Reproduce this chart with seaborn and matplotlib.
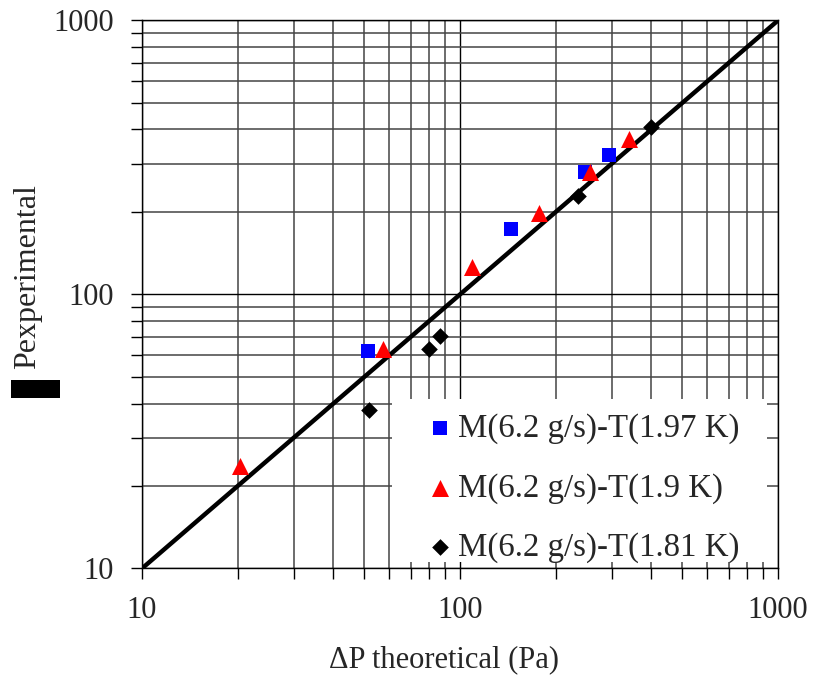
import matplotlib
matplotlib.use('Agg')
import matplotlib.pyplot as plt
import seaborn as sns
from matplotlib.ticker import FixedLocator, FixedFormatter, LogLocator, NullFormatter
from matplotlib.patches import Rectangle

# data (Pa, log-log)
blue_x = [51.5, 145, 247, 295]
blue_y = [62, 174, 281, 324]
red_x = [20.4, 57.4, 109, 177, 257, 341]
red_y = [23.6, 63.5, 125.5, 198, 279, 368]
black_x = [51.8, 80, 86.5, 234.5, 400]
black_y = [38, 63.5, 70.3, 228, 407]

labels = ['M(6.2 g/s)-T(1.97 K)', 'M(6.2 g/s)-T(1.9 K)', 'M(6.2 g/s)-T(1.81 K)']

# y = x reference line
line_x = [10, 1000]
line_y = [10, 1000]

tick_values = [10, 100, 1000]
tick_labels = ['10', '100', '1000']

sns.set_style('white')
plt.rcParams['font.family'] = ['Liberation Serif', 'DejaVu Serif']
plt.rcParams['font.size'] = 22

fig = plt.figure(figsize=(8.16, 6.77), dpi=100)
ax = fig.add_axes([0.174, 0.1603, 0.7794, 0.8095])

sns.lineplot(x=line_x, y=line_y, color='black', linewidth=3.2, ax=ax, zorder=3)

series = [
    (blue_x, blue_y, 's', '#0000ff', 115, labels[0]),
    (red_x, red_y, '^', '#ff0000', 150, labels[1]),
    (black_x, black_y, 'D', 'black', 72, labels[2]),
]
for xs, ys, mk, col, size, lab in series:
    sns.scatterplot(x=xs, y=ys, marker=mk, color=col, s=size, linewidth=0,
                    label=lab, ax=ax, zorder=4)

ax.set_xscale('log')
ax.set_yscale('log')
ax.set_xlim(10, 1000)
ax.set_ylim(10, 1000)

for axis in (ax.xaxis, ax.yaxis):
    axis.set_major_locator(FixedLocator(tick_values))
    axis.set_major_formatter(FixedFormatter(tick_labels))
    axis.set_minor_locator(LogLocator(base=10, subs=range(2, 10)))
    axis.set_minor_formatter(NullFormatter())

ax.grid(which='major', color='black', linewidth=1.0)
ax.grid(which='minor', color='#444444', linewidth=1.1)
ax.set_axisbelow(True)
ax.tick_params(which='both', direction='out', length=8, width=1.0,
               color='black', left=True, bottom=True)
ax.tick_params(which='major', labelsize=22, pad=12)
for sp in ax.spines.values():
    sp.set_color('black')
    sp.set_linewidth(1.0)

ax.set_xlabel('\u0394P theoretical (Pa)', fontsize=22)
ax.xaxis.set_label_coords(0.475, -0.14)
ax.set_ylabel('')

# y label as it appears (delta glyph rendered as a black block)
fig.text(0.0343, 0.5915, 'Pexperimental', rotation=90, ha='center', va='center',
         fontsize=23)
fig.patches.append(Rectangle((0.0135, 0.412), 0.060, 0.0266, transform=fig.transFigure,
                             facecolor='black', edgecolor='none'))

# white legend area in the lower right of the plot
ax.add_patch(Rectangle((0.393, 0.0119), 0.5896, 0.2974, transform=ax.transAxes,
                       facecolor='white', edgecolor='none', zorder=3.5, clip_on=False))

leg = ax.legend(loc='upper left', bbox_to_anchor=(0.4426, 0.2837),
                borderaxespad=0, frameon=False, fontsize=23.7, borderpad=0,
                labelspacing=0.88, handlelength=1.0, handletextpad=0.05)
leg.set_zorder(5)

fig.savefig('out.png', dpi=100)
